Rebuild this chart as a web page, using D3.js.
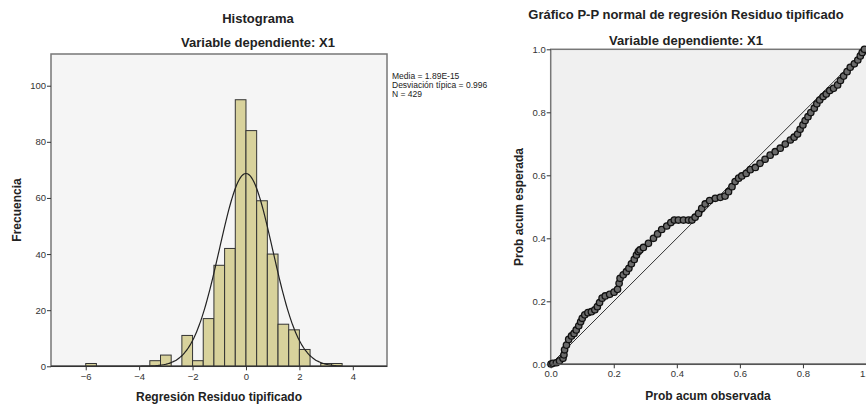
<!DOCTYPE html>
<html lang="en">
  <head>
    <meta charset="utf-8" />
    <title>Histograma y P-P</title>
    <script src="https://d3js.org/d3.v7.min.js"></script>
    <style>
      body {
        margin: 0;
        background: #fff;
      }
      text {
        font-family: "Liberation Sans", Arial, sans-serif;
        fill: #222;
      }
      .title {
        font-size: 13px;
        font-weight: bold;
      }
      .axis-label {
        font-size: 12px;
        font-weight: bold;
      }
      .tick text {
        font-size: 9.5px;
        fill: #333;
      }
      .tick line {
        stroke: #333;
      }
      .domain {
        display: none;
      }
      .legend-text {
        font-size: 8.5px;
      }
    </style>
  </head>
  <body>
    <svg id="chart" width="866" height="404"></svg>
    <script>
      // histogram bins (start of each 0.4-wide bin) and counts
      const binWidth = 0.4;
      const binStarts = [
        -6.0, -3.6, -3.2, -2.4, -2.0, -1.6, -1.2, -0.8, -0.4, 0.0, 0.4, 0.8,
        1.2, 1.6, 2.0, 2.8, 3.2,
      ];
      const binCounts = [1, 2, 4, 11, 2, 17, 36, 42, 95, 84, 59, 40, 15, 13, 6, 1, 1];

      // summary stats from the legend
      const statMean = 1.89e-15;
      const statSd = 0.996;
      const statN = 429;
      const legendLines = [
        "Media = 1.89E-15",
        "Desviación típica = 0.996",
        "N = 429",
      ];

      const histXTicks = [-6, -4, -2, 0, 2, 4];
      const histYTicks = [0, 20, 40, 60, 80, 100];

      // P-P plot
      const ppObserved = [
        0.001, 0.007, 0.018, 0.028, 0.039, 0.042, 0.044, 0.05, 0.057, 0.066,
        0.074, 0.081, 0.089, 0.095, 0.1, 0.108, 0.118, 0.129, 0.14, 0.148,
        0.155, 0.163, 0.173, 0.187, 0.201, 0.212, 0.217, 0.22, 0.23, 0.24,
        0.248, 0.256, 0.265, 0.272, 0.278, 0.283, 0.294, 0.31, 0.326, 0.339,
        0.352, 0.368, 0.381, 0.392, 0.405, 0.421, 0.437, 0.448, 0.458, 0.469,
        0.479, 0.49, 0.504, 0.522, 0.538, 0.553, 0.564, 0.575, 0.585, 0.596,
        0.606, 0.62, 0.633, 0.649, 0.664, 0.68, 0.696, 0.712, 0.728, 0.744,
        0.76, 0.772, 0.783, 0.791, 0.8, 0.807, 0.816, 0.825, 0.836, 0.844,
        0.853, 0.864, 0.874, 0.885, 0.897, 0.91, 0.919, 0.929, 0.94, 0.95,
        0.963, 0.974, 0.982, 0.988, 0.995,
      ];
      const ppExpected = [
        0.001, 0.003, 0.005, 0.011, 0.019, 0.03, 0.046, 0.061, 0.079, 0.09,
        0.098, 0.109, 0.122, 0.135, 0.146, 0.157, 0.164, 0.167, 0.173, 0.183,
        0.196, 0.21, 0.217, 0.222, 0.229, 0.238, 0.257, 0.273, 0.284, 0.294,
        0.305, 0.319, 0.333, 0.347, 0.358, 0.363, 0.371, 0.384, 0.4, 0.414,
        0.428, 0.439, 0.45, 0.458, 0.458, 0.458, 0.458, 0.458, 0.467, 0.479,
        0.495, 0.509, 0.52, 0.527, 0.53, 0.534, 0.548, 0.564, 0.58, 0.591,
        0.598, 0.606, 0.618, 0.625, 0.638, 0.651, 0.664, 0.675, 0.686, 0.699,
        0.712, 0.721, 0.731, 0.746, 0.76, 0.774, 0.786, 0.799, 0.813, 0.827,
        0.839, 0.85, 0.858, 0.869, 0.876, 0.887, 0.901, 0.915, 0.929, 0.943,
        0.954, 0.966, 0.979, 0.99, 1.0,
      ];
      const ppTicks = [0, 0.2, 0.4, 0.6, 0.8, 1.0];

      const svg = d3.select("svg#chart");

      // ---------- histogram ----------
      const hx = d3.scaleLinear().domain([-7.3, 5.28]).range([51, 387]);
      const hy = d3.scaleLinear().domain([0, 111.3]).range([366.3, 54]);

      svg
        .append("rect")
        .attr("x", hx.range()[0])
        .attr("y", hy.range()[1])
        .attr("width", hx.range()[1] - hx.range()[0])
        .attr("height", hy.range()[0] - hy.range()[1])
        .attr("fill", "#f5f5f5")
        .attr("stroke", "#777")
        .attr("stroke-width", 1.5);

      const bins = binStarts.map((s, i) => ({ x0: s, x1: s + binWidth, n: binCounts[i] }));

      svg
        .append("g")
        .selectAll("rect")
        .data(bins)
        .enter()
        .append("rect")
        .attr("x", (d) => hx(d.x0))
        .attr("y", (d) => hy(d.n))
        .attr("width", (d) => hx(d.x1) - hx(d.x0))
        .attr("height", (d) => hy(0) - hy(d.n))
        .attr("fill", "#d8d29c")
        .attr("stroke", "#333")
        .attr("stroke-width", 1);

      // fitted normal curve from the legend stats
      const curveX = d3.range(-6, 3.601, 0.05);
      const curve = d3
        .line()
        .x((d) => hx(d))
        .y((d) => {
          const z = (d - statMean) / statSd;
          return hy((statN * binWidth * Math.exp(-0.5 * z * z)) / (statSd * Math.sqrt(2 * Math.PI)));
        })
        .curve(d3.curveBasis);

      svg
        .append("path")
        .attr("d", curve(curveX))
        .attr("fill", "none")
        .attr("stroke", "#222")
        .attr("stroke-width", 1.2);

      // baseline
      svg
        .append("line")
        .attr("x1", hx.range()[0])
        .attr("x2", hx.range()[1])
        .attr("y1", hy(0))
        .attr("y2", hy(0))
        .attr("stroke", "#333")
        .attr("stroke-width", 1.5);

      svg
        .append("g")
        .attr("transform", `translate(${hx.range()[0]},0)`)
        .call(d3.axisLeft(hy).tickValues(histYTicks).tickSize(4).tickPadding(1));

      svg
        .append("g")
        .attr("transform", `translate(0,${hy(0)})`)
        .call(d3.axisBottom(hx).tickValues(histXTicks).tickSize(4).tickPadding(3));

      svg.append("text").attr("class", "title").attr("x", 258).attr("y", 23).attr("text-anchor", "middle").text("Histograma");
      svg
        .append("text")
        .attr("class", "title")
        .attr("x", 258)
        .attr("y", 47)
        .attr("text-anchor", "middle")
        .text("Variable dependiente: X1");

      svg
        .append("text")
        .attr("class", "axis-label")
        .attr("x", 219)
        .attr("y", 401)
        .attr("text-anchor", "middle")
        .text("Regresión Residuo tipificado");

      svg
        .append("text")
        .attr("class", "axis-label")
        .attr("transform", "translate(20.5,210) rotate(-90)")
        .attr("text-anchor", "middle")
        .text("Frecuencia");

      legendLines.forEach((t, i) => {
        svg
          .append("text")
          .attr("class", "legend-text")
          .attr("x", 392)
          .attr("y", 78.5 + i * 9)
          .text(t);
      });

      // ---------- P-P plot ----------
      const px = d3.scaleLinear().domain([0, 1]).range([550.7, 866]);
      const py = d3.scaleLinear().domain([0, 1]).range([364.3, 49.3]);

      svg
        .append("rect")
        .attr("x", px(0))
        .attr("y", py(1))
        .attr("width", px(1) - px(0) + 2)
        .attr("height", py(0) - py(1))
        .attr("fill", "#f0f0f0")
        .attr("stroke", "#777")
        .attr("stroke-width", 1.5);

      svg
        .append("line")
        .attr("x1", px(0))
        .attr("y1", py(0))
        .attr("x2", px(1))
        .attr("y2", py(1))
        .attr("stroke", "#333")
        .attr("stroke-width", 1);

      const ppData = ppObserved.map((o, i) => ({ o: o, e: ppExpected[i] }));

      svg
        .append("g")
        .selectAll("circle")
        .data(ppData)
        .enter()
        .append("circle")
        .attr("cx", (d) => px(d.o))
        .attr("cy", (d) => py(d.e))
        .attr("r", 3.2)
        .attr("fill", "#6a6a6a")
        .attr("stroke", "#111")
        .attr("stroke-width", 1.3);

      svg
        .append("line")
        .attr("x1", px(0))
        .attr("x2", px(1))
        .attr("y1", py(0))
        .attr("y2", py(0))
        .attr("stroke", "#555")
        .attr("stroke-width", 1.5);

      svg
        .append("g")
        .attr("transform", `translate(${px(0)},0)`)
        .call(d3.axisLeft(py).tickValues(ppTicks).tickSize(4).tickPadding(1).tickFormat(d3.format(".1f")));

      svg
        .append("g")
        .attr("transform", `translate(0,${py(0)})`)
        .call(d3.axisBottom(px).tickValues(ppTicks).tickSize(4).tickPadding(2).tickFormat(d3.format(".1f")));

      svg
        .append("text")
        .attr("class", "title")
        .attr("x", 686)
        .attr("y", 18.5)
        .attr("text-anchor", "middle")
        .text("Gráfico P-P normal de regresión Residuo tipificado");
      svg
        .append("text")
        .attr("class", "title")
        .attr("x", 686)
        .attr("y", 44.5)
        .attr("text-anchor", "middle")
        .text("Variable dependiente: X1");

      svg
        .append("text")
        .attr("class", "axis-label")
        .attr("x", 708)
        .attr("y", 400)
        .attr("text-anchor", "middle")
        .text("Prob acum observada");

      svg
        .append("text")
        .attr("class", "axis-label")
        .attr("transform", "translate(522.5,207) rotate(-90)")
        .attr("text-anchor", "middle")
        .text("Prob acum esperada");
    </script>
  </body>
</html>
